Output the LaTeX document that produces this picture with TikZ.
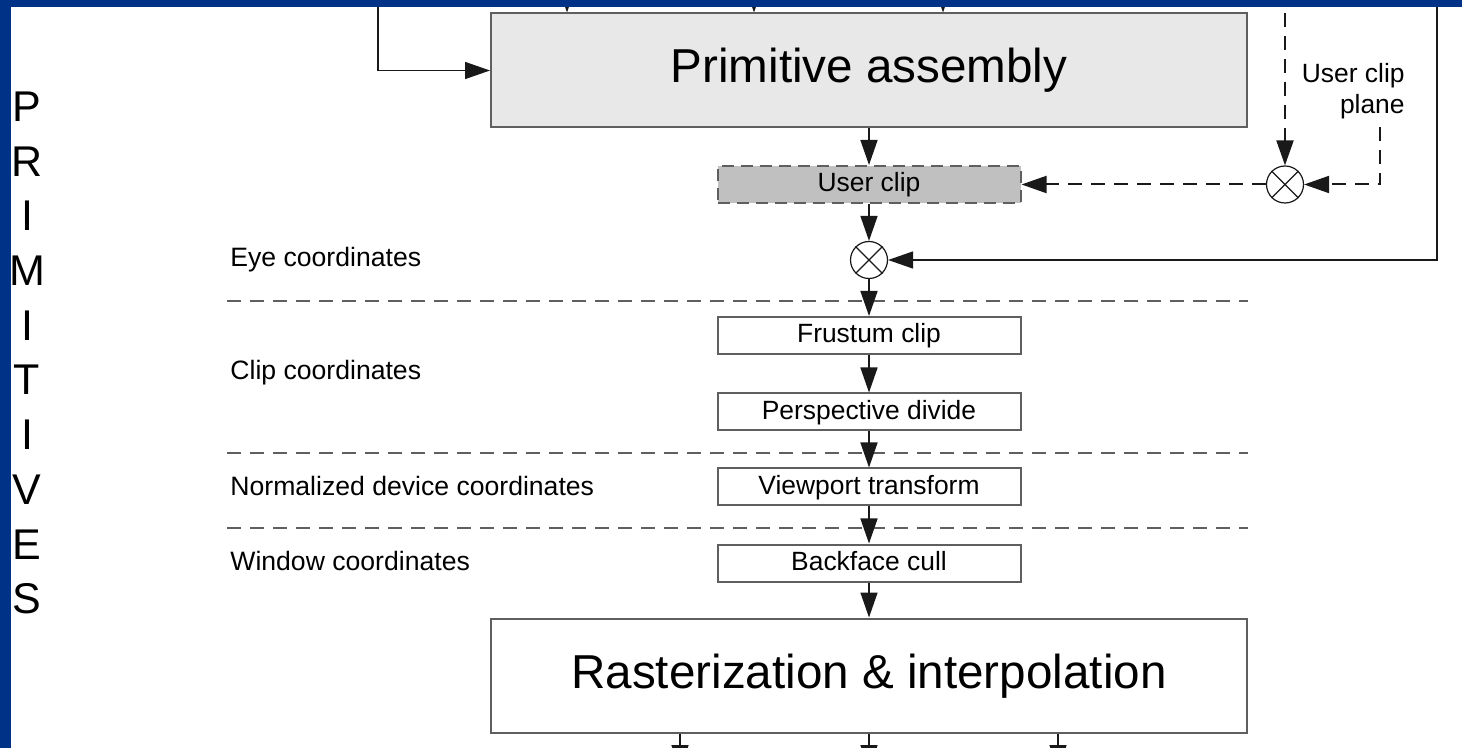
\documentclass[tikz,border=0pt]{standalone}
\usepackage{fontspec}
\setmainfont{Liberation Sans}
\usetikzlibrary{arrows.meta}

\definecolor{band}{RGB}{0,50,135}
\definecolor{edge}{RGB}{95,95,95}
\definecolor{wire}{RGB}{25,25,25}
\definecolor{paFill}{RGB}{232,232,232}
\definecolor{ucFill}{RGB}{192,192,192}

\begin{document}
\begin{tikzpicture}[x=0.5pt,y=-0.5pt,
  stage/.style={draw=edge, line width=1pt, minimum width=151.5pt, minimum height=18.5pt,
    inner sep=0pt, text height=10pt, text depth=2.6pt, font=\fontsize{13.2}{15}\selectfont},
  bigstage/.style={draw=edge, line width=1pt, minimum width=378pt, minimum height=57pt,
    inner sep=0pt, text height=17.5pt, text depth=5pt, font=\fontsize{23.8}{28}\selectfont},
  mixer/.style={circle, draw=wire, line width=0.6pt, minimum size=18.5pt, inner sep=0pt, fill=white},
  flow/.style={draw=wire, line width=0.75pt, -{Triangle[length=12.5pt,width=8.5pt]}},
  dflow/.style={flow, line width=1pt, dash pattern=on 7pt off 4.5pt},
  sep/.style={draw=edge, line width=1pt, dash pattern=on 7pt off 4.5pt},
  layer/.style={anchor=base west, inner sep=0pt, font=\fontsize{13.3}{15}\selectfont},
  letter/.style={anchor=base, inner sep=0pt, font=\fontsize{21.5}{26}\selectfont}
]
\useasboundingbox (0,0) rectangle (1462,748);
\clip (0,0) rectangle (1462,748);
\fill[white] (0,0) rectangle (1462,748);

% coordinate-space separators
\draw[sep] (227,301) -- (1248,301);
\draw[sep] (227,453) -- (1248,453);
\draw[sep] (227,528) -- (1248,528);

% coordinate-space names
\node[layer] (eye)   at (230,267) {Eye coordinates};
\node[layer] (clipc) at (230,380) {Clip coordinates};
\node[layer] (ndc)   at (230,495) {Normalized device coordinates};
\node[layer] (win)   at (230,570) {Window coordinates};

% vertical title
\foreach \ch [count=\i from 0] in {P,R,I,M,I,T,I,V,E,S}
  \node[letter] (ltr\i) at (27,121.5+54.7*\i) {\ch};

% pipeline stages
\node[bigstage, fill=paFill] (pa) at (869,70.5) {Primitive assembly};
\node[stage, fill=ucFill, dash pattern=on 6pt off 3.5pt] (uc) at (869,184.5) {User clip};
\node[mixer] (mx1) at (1285,184.5) {};
\node[mixer] (mx2) at (869,260) {};
\node[stage] (fc) at (869,335.5) {Frustum clip};
\node[stage] (pd) at (869,412) {Perspective divide};
\node[stage] (vt) at (869,487) {Viewport transform};
\node[stage] (bc) at (869,563) {Backface cull};
\node[bigstage] (ri) at (869,675.5) {Rasterization \& interpolation};

\node[anchor=north east, align=right, inner sep=0pt, font=\fontsize{13.2}{15.5}\selectfont]
  (ucp) at (1405,63) {User clip\\plane};

% crosses in the combiners
\foreach \m in {mx1,mx2}
  \draw[wire, line width=0.6pt] (\m.45) -- (\m.225) (\m.135) -- (\m.-45);

% free ends of the incoming and outgoing connectors
\coordinate (in1) at (567,-40);
\coordinate (in2) at (754,-40);
\coordinate (in3) at (943,-40);
\coordinate (fb)  at (378,-10);
\coordinate (ucin) at (1285,-10);
\coordinate (eyein) at (1437,-10);
\coordinate (plane) at (1380,127);
\coordinate (out1) at (680,770);
\coordinate (out2) at (869,770);
\coordinate (out3) at (1058,770);

% connectors
\draw[flow] (in1) -- (in1 |- pa.north);
\draw[flow] (in2) -- (in2 |- pa.north);
\draw[flow] (in3) -- (in3 |- pa.north);
\draw[flow] (fb) |- (pa.west);
\draw[flow] (pa.south) -- (uc.north);
\draw[dflow] (ucin) -- (mx1.north);
\draw[dflow] (plane) |- (mx1.east);
\draw[dflow] (mx1.west) -- (uc.east);
\draw[flow] (uc.south) -- (mx2.north);
\draw[flow] (eyein) |- (mx2.east);
\draw[flow] (mx2.south) -- (fc.north);
\draw[flow] (fc.south) -- (pd.north);
\draw[flow] (pd.south) -- (vt.north);
\draw[flow] (vt.south) -- (bc.north);
\draw[flow] (bc.south) -- (ri.north);
\draw[flow] (out1 |- ri.south) -- (out1);
\draw[flow] (out2 |- ri.south) -- (out2);
\draw[flow] (out3 |- ri.south) -- (out3);

% frame bands
\fill[band] (0,0) rectangle (1462,7);
\fill[band] (0,0) rectangle (11,748);
\end{tikzpicture}
\end{document}
